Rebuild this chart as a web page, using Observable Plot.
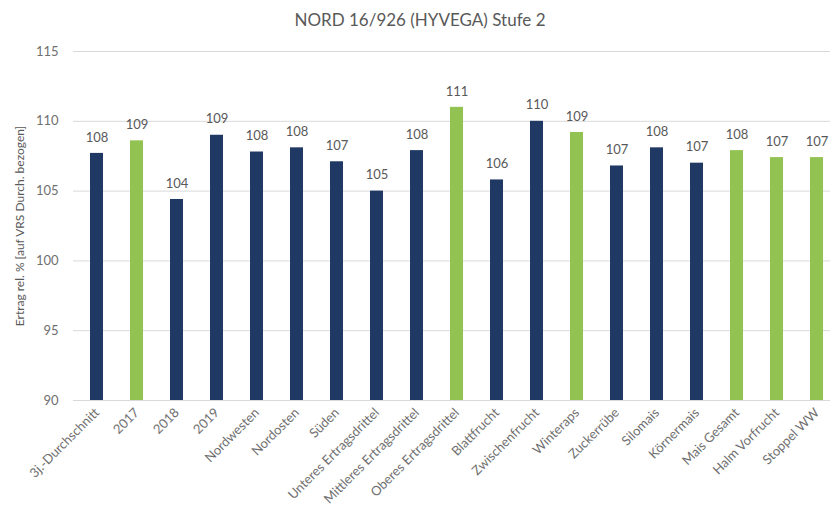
<!DOCTYPE html>
<html>
<head>
<meta charset="utf-8">
<script src="https://cdn.jsdelivr.net/npm/d3@7"></script>
<script src="https://cdn.jsdelivr.net/npm/@observablehq/plot@0.6"></script>
<style>
  html, body { margin: 0; padding: 0; background: #fff; overflow: hidden; width: 830px; height: 532px; }
  #title { font-family: Lato, sans-serif; font-size: 17px; color: #595959; position: absolute; left: 0; top: 9px; width: 840px; text-align: center; }
  #chart { position: absolute; left: 0; top: 40px; width: 839px; }
  #chart svg { max-width: none !important; }
</style>
</head>
<body>
<div id="title">NORD 16/926 (HYVEGA) Stufe 2</div>
<div id="chart"></div>
<script>
const categories = ["3j.-Durchschnitt", "2017", "2018", "2019", "Nordwesten", "Nordosten", "Süden",
  "Unteres Ertragsdrittel", "Mittleres Ertragsdrittel", "Oberes Ertragsdrittel", "Blattfrucht",
  "Zwischenfrucht", "Winteraps", "Zuckerrübe", "Silomais", "Körnermais", "Mais Gesamt",
  "Halm Vorfrucht", "Stoppel WW"];
const values = [107.7, 108.6, 104.4, 109.0, 107.8, 108.1, 107.1, 105.0, 107.9, 111.0, 105.8,
  110.0, 109.2, 106.8, 108.1, 107.0, 107.9, 107.4, 107.4];
const groups = ["a", "b", "a", "a", "a", "a", "a", "a", "a", "b", "a", "a", "b", "a", "a", "a", "b", "b", "b"];
const yTicks = [90, 95, 100, 105, 110, 115];
const yLabel = "Ertrag rel. % [auf VRS Durch. bezogen]";

const data = categories.map((c, i) => ({cat: c, value: values[i], group: groups[i]}));

const chart = Plot.plot({
  width: 839,
  height: 492,
  marginTop: 11,
  marginBottom: 132,
  marginLeft: 73,
  marginRight: 0,
  style: {fontFamily: "Lato, sans-serif", fontSize: "13px", color: "#595959", background: "#fff"},
  x: {domain: categories, paddingInner: 0.68, paddingOuter: 0.34},
  y: {domain: [90, 115]},
  color: {domain: ["a", "b"], range: ["#1f3864", "#92c352"]},
  marks: [
    Plot.gridY(yTicks, {stroke: "#d9d9d9", strokeOpacity: 1}),
    Plot.barY(data, {x: "cat", y1: 90, y2: "value", fill: "group"}),
    Plot.text(data, {x: "cat", y: "value", text: d => Math.round(d.value), dy: -16, fill: "#595959", fontSize: 13}),
    Plot.axisY({ticks: yTicks, tickSize: 0, tickPadding: 15, fontSize: 13, fill: "#6f6f6f", label: null}),
    Plot.axisY({ticks: [], tickSize: 0, fontSize: 12, label: yLabel, labelAnchor: "center", labelArrow: "none", labelOffset: 58}),
    Plot.axisX({tickSize: 0, tickPadding: 10, tickRotate: -45, fontSize: 13, fill: "#6f6f6f", label: null})
  ]
});
document.getElementById("chart").appendChild(chart);
</script>
</body>
</html>
